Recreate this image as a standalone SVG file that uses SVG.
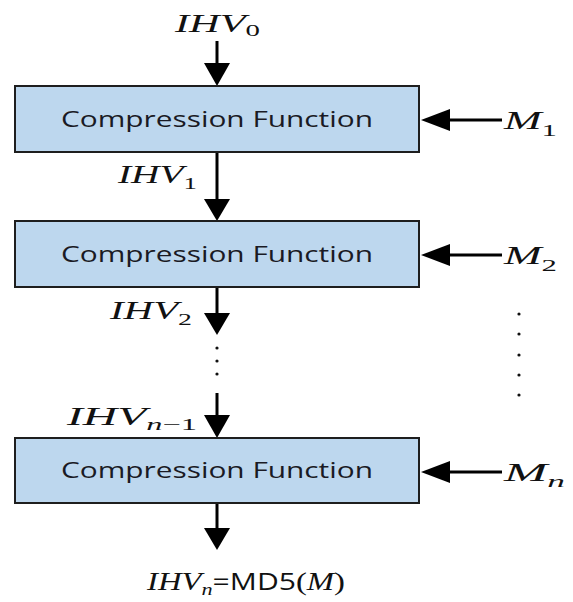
<svg xmlns="http://www.w3.org/2000/svg" width="573" height="602" viewBox="0 0 573 602">
  <style>
    .box { fill: #bdd7ee; stroke: #1e1e1e; stroke-width: 2; }
    .lbl { font-family: "Open Sans", "Liberation Sans", sans-serif; font-size: 22px; fill: #1a1a24; text-anchor: middle; }
    .math { font-family: "Liberation Serif", "DejaVu Serif", serif; font-size: 25px; fill: #111; }
    .it { font-style: italic; }
    .sub { font-size: 17px; }
    .sans { font-family: "Open Sans", "Liberation Sans", sans-serif; font-size: 23px; }
    .wire { stroke: #000; stroke-width: 3; fill: none; }
    .head { fill: #000; }
    .dot { fill: #111; }
  </style>

  <rect width="573" height="602" fill="#fff"/>

  <!-- connectors -->
  <g id="connectors">
    <!-- main chaining path -->
    <line class="wire" x1="217" y1="41" x2="217" y2="64"/>
    <polygon class="head" points="204,63 230,63 217,86"/>
    <line class="wire" x1="217" y1="152" x2="217" y2="200"/>
    <polygon class="head" points="204,199 230,199 217,221"/>
    <line class="wire" x1="217" y1="287" x2="217" y2="314"/>
    <polygon class="head" points="204,313 230,313 217,335"/>
    <line class="wire" x1="217" y1="393" x2="217" y2="416"/>
    <polygon class="head" points="204,415 230,415 217,438"/>
    <line class="wire" x1="217" y1="503" x2="217" y2="529"/>
    <polygon class="head" points="204,528 230,528 217,550"/>

    <!-- message block inputs -->
    <line class="wire" x1="449" y1="120" x2="502" y2="120" stroke-width="2.5"/>
    <polygon class="head" points="421,120 450,109 450,131"/>
    <line class="wire" x1="449" y1="255" x2="502" y2="255" stroke-width="2.5"/>
    <polygon class="head" points="421,255 450,244 450,266"/>
    <line class="wire" x1="449" y1="472" x2="502" y2="472" stroke-width="2.5"/>
    <polygon class="head" points="421,472 450,461 450,483"/>

    <!-- elided rounds -->
    <circle class="dot" cx="217" cy="348" r="1.6"/>
    <circle class="dot" cx="217" cy="361" r="1.6"/>
    <circle class="dot" cx="217" cy="374" r="1.6"/>
    <circle class="dot" cx="519" cy="314" r="1.6"/>
    <circle class="dot" cx="519" cy="334" r="1.6"/>
    <circle class="dot" cx="519" cy="355" r="1.6"/>
    <circle class="dot" cx="519" cy="375" r="1.6"/>
    <circle class="dot" cx="519" cy="395" r="1.6"/>
  </g>

  <!-- compression function stages -->
  <g id="cf1">
    <rect class="box" x="15" y="86" width="404" height="66"/>
    <text class="lbl" x="217" y="127" textLength="312" lengthAdjust="spacingAndGlyphs">Compression Function</text>
  </g>
  <g id="cf2">
    <rect class="box" x="15" y="221" width="404" height="66"/>
    <text class="lbl" x="217" y="262" textLength="312" lengthAdjust="spacingAndGlyphs">Compression Function</text>
  </g>
  <g id="cf3">
    <rect class="box" x="15" y="438" width="404" height="65"/>
    <text class="lbl" x="217" y="478" textLength="312" lengthAdjust="spacingAndGlyphs">Compression Function</text>
  </g>

  <!-- chaining values -->
  <g id="ihv0">
    <text class="math" x="175" y="32" textLength="85" lengthAdjust="spacingAndGlyphs"><tspan class="it">IHV</tspan><tspan class="sub" dy="4">0</tspan></text>
  </g>
  <g id="ihv1">
    <text class="math" x="118" y="183" textLength="79" lengthAdjust="spacingAndGlyphs"><tspan class="it">IHV</tspan><tspan class="sub" dy="6">1</tspan></text>
  </g>
  <g id="ihv2">
    <text class="math" x="110" y="319" textLength="82" lengthAdjust="spacingAndGlyphs"><tspan class="it">IHV</tspan><tspan class="sub" dy="6">2</tspan></text>
  </g>
  <g id="ihvn1">
    <text class="math" x="67" y="425" textLength="130" lengthAdjust="spacingAndGlyphs"><tspan class="it">IHV</tspan><tspan class="sub it" dy="5">n</tspan><tspan class="sub">−1</tspan></text>
  </g>

  <!-- message blocks -->
  <g id="m1">
    <text class="math" x="504" y="129" textLength="53" lengthAdjust="spacingAndGlyphs"><tspan class="it">M</tspan><tspan class="sub" dy="7">1</tspan></text>
  </g>
  <g id="m2">
    <text class="math" x="504" y="264" textLength="53" lengthAdjust="spacingAndGlyphs"><tspan class="it">M</tspan><tspan class="sub" dy="7">2</tspan></text>
  </g>
  <g id="mn">
    <text class="math" x="504" y="481" textLength="61" lengthAdjust="spacingAndGlyphs"><tspan class="it">M</tspan><tspan class="sub it" dy="6">n</tspan></text>
  </g>

  <!-- final digest -->
  <g id="digest">
    <text class="math" x="147" y="590" textLength="198" lengthAdjust="spacingAndGlyphs"><tspan class="it">IHV</tspan><tspan class="sub it" dy="5">n</tspan><tspan class="sans" dy="-5">=MD5</tspan><tspan>(</tspan><tspan class="it">M</tspan><tspan>)</tspan></text>
  </g>
</svg>
